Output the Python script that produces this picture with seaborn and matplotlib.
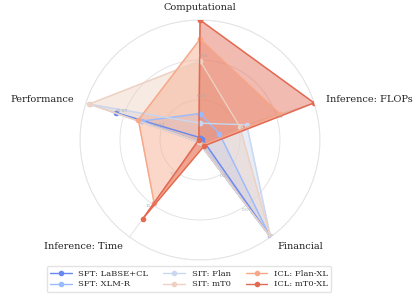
import matplotlib
matplotlib.use("Agg")
import matplotlib.pyplot as plt
import seaborn as sns
import numpy as np

# axes, clockwise from the top
axes_labels = ["Computational", "Inference: FLOPs", "Financial", "Inference: Time", "Performance"]
# raw-scale tick labels shown on each spoke at 1/3 and 2/3 of the radius
tick_labels = [["0.33", "0.65"], ["17", "33"], ["0.33", "0.67"], ["7.5", "15"], ["15.83", "31.67"]]

models = ["SFT: LaBSE+CL", "SFT: XLM-R", "SIT: Flan", "SIT: mT0", "ICL: Flan-XL", "ICL: mT0-XL"]
labse_cl = [0.02, 0.02, 1.00, 0.02, 0.74]
xlm_r = [0.22, 0.17, 0.99, 0.02, 0.51]
sit_flan = [0.14, 0.41, 1.00, 0.02, 0.96]
sit_mt0 = [0.66, 0.35, 1.00, 0.02, 0.97]
icl_flan_xl = [0.84, 0.70, 0.05, 0.65, 0.54]
icl_mt0_xl = [1.00, 1.00, 0.06, 0.81, 0.01]
series = [labse_cl, xlm_r, sit_flan, sit_mt0, icl_flan_xl, icl_mt0_xl]

sns.set_theme(style="whitegrid")
plt.rcParams["font.family"] = ["DejaVu Serif"]
colors = sns.color_palette("coolwarm", len(models))

fig = plt.figure(figsize=(4.18, 2.96), dpi=100)
ax = fig.add_axes([80 / 418, 36 / 296, 240 / 418, 240 / 296], polar=True)

n = len(axes_labels)
angles = np.linspace(0, 2 * np.pi, n, endpoint=False).tolist()
angles += angles[:1]

ax.set_theta_offset(np.pi / 2)
ax.set_theta_direction(-1)

for name, vals, c in zip(models, series, colors):
    v = vals + vals[:1]
    ax.fill(angles, v, color=c, alpha=0.45, zorder=2)
    ax.plot(angles, v, color=c, linewidth=1.0, marker="o", markersize=3, label=name, zorder=3)

ax.set_ylim(0, 1)
ax.set_rgrids([1 / 3, 2 / 3, 1.0], labels=[])
ax.set_xticks(angles[:-1])
ax.set_xticklabels([])
ax.grid(color="#e4e4e4", linewidth=0.7)
ax.spines["polar"].set_color("#e4e4e4")
ax.spines["polar"].set_linewidth(0.7)
ax.set_facecolor("white")

# axis names
for a, lab in zip(angles[:-1], axes_labels):
    x = np.sin(a)
    ha = "left" if x > 0.1 else ("right" if x < -0.1 else "center")
    ax.text(a, 1.1, lab, ha=ha, va="center", fontsize=7, color="#222222")

# per-spoke tick labels
for a, labs in zip(angles[:-1], tick_labels):
    for r, t in zip([1 / 3, 2 / 3], labs):
        ax.text(a + 0.04, r + 0.03, t, ha="center", va="center", fontsize=3.2, color="#aaaaaa", zorder=4)

fig.legend(loc="lower center", bbox_to_anchor=(189 / 418, 0.0), ncol=3, fontsize=6,
           frameon=True, edgecolor="#dddddd", handlelength=2.6, columnspacing=1.8,
           borderpad=0.4, labelspacing=0.35)

fig.savefig("out.png", dpi=100)
